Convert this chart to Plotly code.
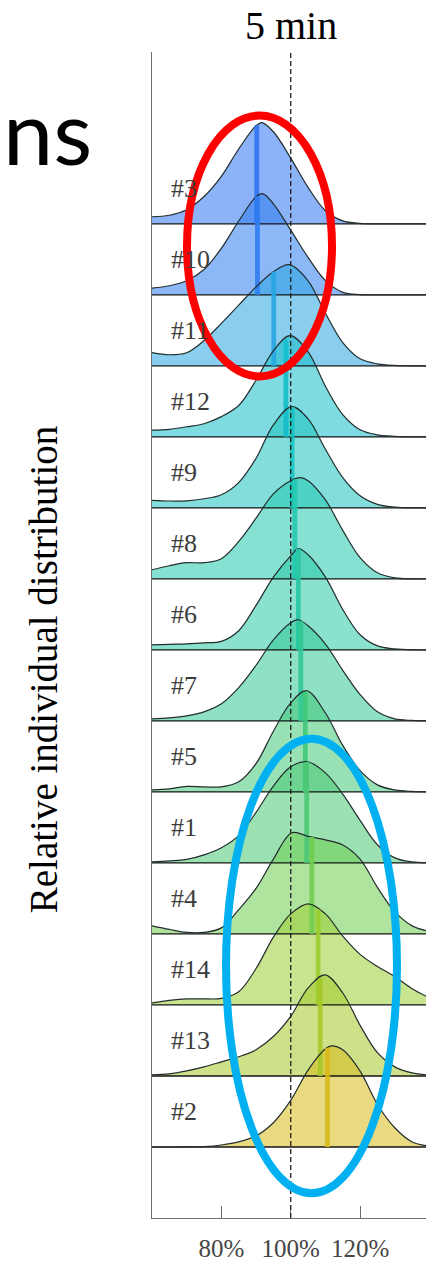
import numpy as np
import plotly.graph_objects as go

# Relative value grid (percent of the individual mean) shared by all ridges
GRID_PCT = [60, 65, 70, 75, 80, 85, 90, 95, 100, 105, 110, 115, 120, 125, 130, 135, 140]

ROW_LABELS = ["#3", "#10", "#11", "#12", "#9", "#8", "#6", "#7",
              "#5", "#1", "#4", "#14", "#13", "#2"]

# Position of each ridge's maximum (normalised density = 1 there)
PEAK_PCT = [91.7, 91.9, 99.6, 99.8, 100.3, 102.7, 102.2, 102.2,
            104.6, 104.8, 100.3, 105.1, 109.9, 111.8]

# Mean of each distribution (vertical marker)
MEAN_PCT = [90.2, 90.4, 95.1, 98.6, 100.4, 101.2, 102.2, 102.9,
            104.2, 104.6, 106.1, 107.9, 108.5, 110.6]

# Normalised densities on GRID_PCT
DENS_3 = [0.07, 0.085, 0.14, 0.27, 0.47, 0.74, 0.97, 0.91, 0.65, 0.36, 0.13, 0.03, 0.005, 0, 0, 0, 0]
DENS_10 = [0.066, 0.09, 0.14, 0.25, 0.46, 0.73, 0.97, 0.90, 0.64, 0.37, 0.14, 0.025, 0.003, 0, 0, 0, 0]
DENS_11 = [0.13, 0.11, 0.13, 0.25, 0.42, 0.60, 0.78, 0.93, 0.999, 0.84, 0.52, 0.23, 0.07, 0.02, 0.004, 0, 0]
DENS_12 = [0.066, 0.075, 0.10, 0.13, 0.20, 0.31, 0.56, 0.85, 0.999, 0.84, 0.50, 0.22, 0.07, 0.02, 0.005, 0, 0]
DENS_9 = [0.075, 0.068, 0.07, 0.09, 0.13, 0.25, 0.49, 0.82, 0.999, 0.88, 0.58, 0.30, 0.12, 0.035, 0.008, 0, 0]
DENS_8 = [0.09, 0.13, 0.16, 0.16, 0.20, 0.37, 0.60, 0.84, 0.97, 0.97, 0.78, 0.48, 0.21, 0.06, 0.01, 0, 0]
DENS_6 = [0.05, 0.055, 0.06, 0.07, 0.085, 0.19, 0.44, 0.72, 0.93, 0.94, 0.72, 0.40, 0.15, 0.04, 0.01, 0, 0]
DENS_7 = [0.02, 0.03, 0.05, 0.09, 0.17, 0.33, 0.55, 0.80, 0.97, 0.94, 0.76, 0.50, 0.26, 0.09, 0.02, 0.005, 0]
DENS_5 = [0.02, 0.03, 0.055, 0.05, 0.05, 0.10, 0.28, 0.60, 0.88, 0.998, 0.78, 0.46, 0.21, 0.07, 0.02, 0.005, 0]
DENS_1 = [0.01, 0.02, 0.035, 0.08, 0.15, 0.27, 0.50, 0.76, 0.95, 0.999, 0.89, 0.68, 0.42, 0.18, 0.05, 0.01, 0]
DENS_4 = [0.08, 0.045, 0.015, 0.015, 0.06, 0.24, 0.45, 0.74, 0.999, 0.965, 0.93, 0.88, 0.74, 0.46, 0.22, 0.08, 0.025]
DENS_14 = [0.02, 0.045, 0.06, 0.06, 0.065, 0.13, 0.36, 0.67, 0.90, 0.999, 0.90, 0.68, 0.50, 0.38, 0.28, 0.16, 0.07]
DENS_13 = [0.01, 0.02, 0.05, 0.09, 0.14, 0.19, 0.26, 0.39, 0.59, 0.87, 0.999, 0.82, 0.50, 0.23, 0.09, 0.03, 0.01]
DENS_2 = [0, 0, 0.002, 0.005, 0.02, 0.05, 0.11, 0.24, 0.46, 0.76, 0.97, 0.96, 0.75, 0.42, 0.19, 0.05, 0.01]

DENSITIES = [DENS_3, DENS_10, DENS_11, DENS_12, DENS_9, DENS_8, DENS_6, DENS_7,
             DENS_5, DENS_1, DENS_4, DENS_14, DENS_13, DENS_2]

ROW_COLORS = [(45, 115, 240), (45, 125, 240), (40, 165, 225), (20, 190, 200),
              (25, 195, 190), (35, 200, 175), (40, 200, 165), (50, 200, 150),
              (65, 200, 120), (75, 200, 115), (110, 205, 80), (155, 205, 50),
              (165, 200, 40), (215, 185, 25)]

X_TICKS = [80, 100, 120]
X_TICK_TEXT = ["80%", "100%", "120%"]

RIDGE_HEIGHT = 1.425          # peak height in row spacings
FILL_ALPHA = 0.55
X_RANGE = [60.0, 139.0]
Y_RANGE = [-14.0, 2.42]

W, H = 426, 1262
ML, MT, MB = 152, 52, 35
PW, PH = W - ML, H - MT - MB


def px_x(p):
    return (p - ML) / PW


def px_y(p):
    return (H - MB - p) / PH


SERIF = "Liberation Serif, Times New Roman, serif"

fig = go.Figure()

ridges = []
for i, dens in enumerate(DENSITIES):
    # the measured peak takes the place of a grid sample lying right next to it
    pts = [(x, h) for x, h in zip(GRID_PCT, dens) if abs(x - PEAK_PCT[i]) >= 1.0]
    pts.append((PEAK_PCT[i], 1.0))
    pts.sort()
    xs = np.array([p[0] for p in pts], dtype=float)
    hs = np.array([p[1] for p in pts], dtype=float)
    ridges.append((xs, hs))

# Filled ridges
for i, (xs, hs) in enumerate(ridges):
    base = -i
    r, g, b = ROW_COLORS[i]
    fig.add_trace(go.Scatter(x=[GRID_PCT[0], GRID_PCT[-1]], y=[base, base], mode="lines",
                             line=dict(width=0), hoverinfo="skip", showlegend=False))
    fig.add_trace(go.Scatter(x=xs, y=base + RIDGE_HEIGHT * hs, mode="lines",
                             line=dict(width=0, shape="spline", smoothing=1.0),
                             fill="tonexty", fillcolor=f"rgba({r},{g},{b},{FILL_ALPHA})",
                             hoverinfo="skip", showlegend=False))

# Outlines, baselines and mean markers
for i, (xs, hs) in enumerate(ridges):
    base = -i
    r, g, b = ROW_COLORS[i]
    fig.add_trace(go.Scatter(x=[GRID_PCT[0], GRID_PCT[-1]], y=[base, base], mode="lines",
                             line=dict(width=1.3, color="rgb(20,20,20)"),
                             hoverinfo="skip", showlegend=False))
    fig.add_trace(go.Scatter(x=xs, y=base + RIDGE_HEIGHT * hs, mode="lines",
                             line=dict(width=1.2, color="rgb(35,45,45)", shape="spline", smoothing=1.0),
                             hoverinfo="skip", showlegend=False))
    top = base + RIDGE_HEIGHT * float(np.interp(MEAN_PCT[i], xs, hs))
    fig.add_trace(go.Scatter(x=[MEAN_PCT[i], MEAN_PCT[i]], y=[base, top], mode="lines",
                             line=dict(width=4.8, color=f"rgba({r},{g},{b},0.9)"),
                             hoverinfo="skip", showlegend=False))

annotations = []
for i, lab in enumerate(ROW_LABELS):
    annotations.append(dict(x=65, y=-i + 0.5, xref="x", yref="y", text=lab,
                            showarrow=False, xanchor="left", yanchor="middle",
                            font=dict(family=SERIF, size=26, color="rgb(60,60,60)")))

annotations += [
    dict(x=100, y=px_y(25), xref="x", yref="paper", text="5 min", showarrow=False,
         xanchor="center", yanchor="middle", font=dict(family=SERIF, size=40, color="black")),
    dict(x=px_x(43), y=px_y(675), xref="paper", yref="paper",
         text="Relative individual distribution", textangle=-90, showarrow=False,
         xanchor="center", yanchor="middle", font=dict(family=SERIF, size=39, color="black")),
    dict(x=px_x(1), y=px_y(131), xref="paper", yref="paper", text="ns", showarrow=False,
         xanchor="left", yanchor="middle", font=dict(family="Lato, sans-serif", size=90, color="black")),
]

shapes = [
    dict(type="line", xref="x", yref="paper", x0=100, x1=100, y0=0, y1=1,
         line=dict(color="rgb(30,30,30)", width=1.3, dash="5px,3px"), layer="above"),
    dict(type="circle", xref="paper", yref="paper",
         x0=px_x(187), x1=px_x(332), y0=px_y(379), y1=px_y(116),
         line=dict(color="rgb(255,0,0)", width=8), layer="above"),
    dict(type="circle", xref="paper", yref="paper",
         x0=px_x(226), x1=px_x(397), y0=px_y(1202), y1=px_y(744),
         line=dict(color="rgb(0,176,240)", width=8), layer="above"),
]

fig.update_layout(
    width=W, height=H,
    margin=dict(l=ML, r=0, t=MT, b=MB, pad=0),
    paper_bgcolor="white", plot_bgcolor="white",
    showlegend=False,
    annotations=annotations,
    shapes=shapes,
    xaxis=dict(range=X_RANGE, showgrid=False, zeroline=False, showline=True,
               linecolor="rgb(110,110,110)", linewidth=1.3,
               ticks="inside", ticklen=12, tickwidth=1.3, tickcolor="rgb(110,110,110)",
               tickvals=X_TICKS, ticktext=X_TICK_TEXT, ticklabelstandoff=8,
               tickfont=dict(family=SERIF, size=25, color="rgb(70,70,70)")),
    yaxis=dict(range=Y_RANGE, showgrid=False, zeroline=False, showline=True,
               linecolor="rgb(110,110,110)", linewidth=1.3, showticklabels=False, ticks=""),
)

fig.write_html("out.html")
